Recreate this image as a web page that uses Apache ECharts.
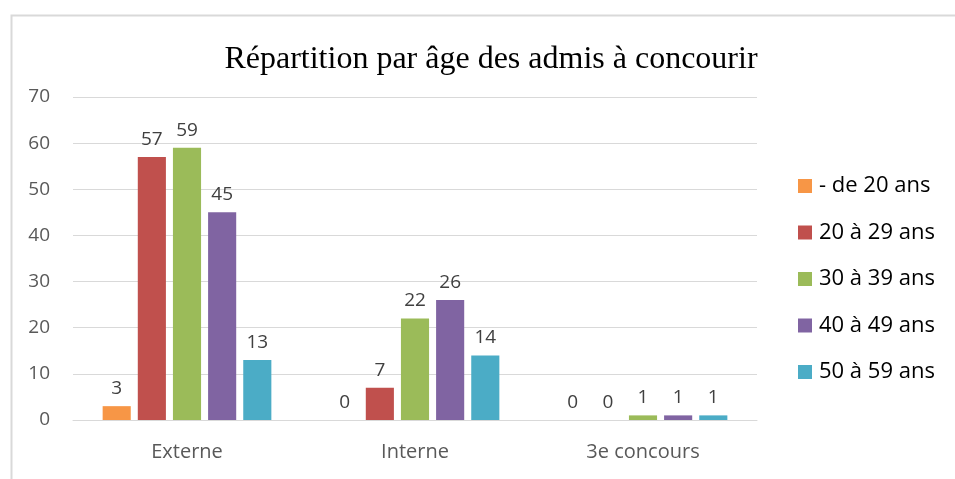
<!DOCTYPE html>
<html>
<head>
<meta charset="utf-8">
<script src="https://cdn.jsdelivr.net/npm/echarts@6/dist/echarts.min.js"></script>
<style>
  html, body { margin: 0; padding: 0; background: #fff; }
  #chart { width: 955px; height: 479px; }
</style>
</head>
<body>
<div id="chart"></div>
<script>
// données
var categories = ['Externe', 'Interne', '3e concours'];
var ageGroups = ['- de 20 ans', '20 à 29 ans', '30 à 39 ans', '40 à 49 ans', '50 à 59 ans'];
var moins20 = [3, 0, 0];
var de20a29 = [57, 7, 0];
var de30a39 = [59, 22, 1];
var de40a49 = [45, 26, 1];
var de50a59 = [13, 14, 1];
var yTicks = [0, 10, 20, 30, 40, 50, 60, 70];

var colors = ['#f79646', '#c0504d', '#9bbb59', '#8064a2', '#4bacc6'];
var seriesValues = [moins20, de20a29, de30a39, de40a49, de50a59];
var labelFont = '"Open Sans", Lato, sans-serif';

var chart = echarts.init(document.getElementById('chart'));

var series = ageGroups.map(function (name, i) {
  return {
    name: name,
    type: 'bar',
    data: seriesValues[i],
    barGap: '25%',
    barCategoryGap: '26%',
    itemStyle: { color: colors[i] },
    label: {
      show: true,
      position: 'top',
      distance: 8,
      color: '#404040',
      fontSize: 19,
      fontFamily: labelFont
    }
  };
});

chart.setOption({
  animation: false,
  color: colors,
  graphic: [{
    type: 'rect',
    left: 9,
    top: 13,
    shape: { width: 980, height: 500 },
    style: { fill: 'none', stroke: '#d9d9d9', lineWidth: 2 },
    silent: true
  }],
  title: {
    text: 'Répartition par âge des admis à concourir',
    left: 486,
    top: 39,
    textAlign: 'center',
    textStyle: {
      fontFamily: '"Liberation Serif", "DejaVu Serif", serif',
      fontWeight: 'normal',
      fontSize: 32,
      color: '#000'
    }
  },
  legend: {
    data: ageGroups,
    orient: 'vertical',
    left: 793,
    top: 169,
    itemWidth: 14,
    itemHeight: 14,
    itemGap: 22.5,
    icon: 'rect',
    textStyle: {
      fontFamily: labelFont,
      fontSize: 22,
      lineHeight: 24,
      color: '#000',
      padding: [0, 0, 0, 2]
    }
  },
  grid: {
    left: 73,
    right: 198,
    top: 97,
    bottom: 59
  },
  xAxis: {
    type: 'category',
    data: categories,
    axisLine: { lineStyle: { color: '#d9d9d9', width: 1 } },
    axisTick: { show: false },
    axisLabel: {
      color: '#595959',
      fontSize: 20,
      fontFamily: labelFont,
      margin: 22
    }
  },
  yAxis: {
    type: 'value',
    min: yTicks[0],
    max: yTicks[yTicks.length - 1],
    interval: 10,
    axisLine: { show: false },
    axisTick: { show: false },
    splitLine: { lineStyle: { color: '#d9d9d9', width: 1 } },
    axisLabel: {
      color: '#595959',
      fontSize: 19,
      fontFamily: labelFont,
      margin: 23
    }
  },
  series: series
});
</script>
</body>
</html>
